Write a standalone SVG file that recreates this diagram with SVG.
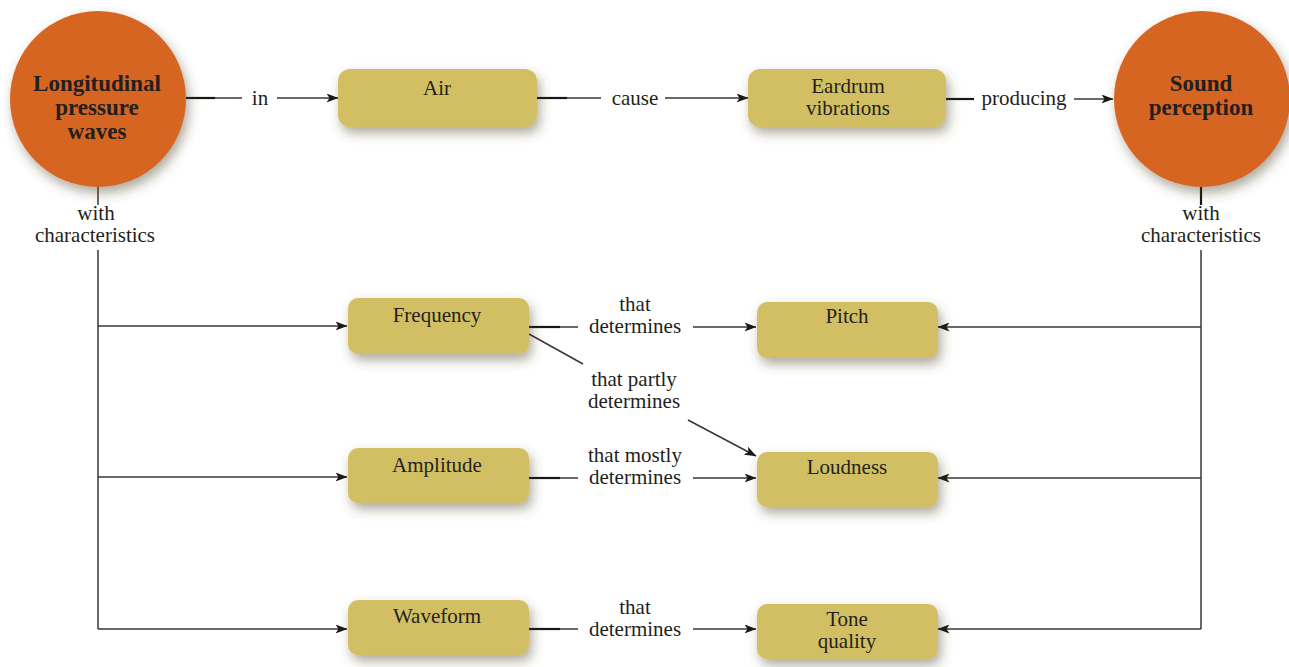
<svg xmlns="http://www.w3.org/2000/svg" width="1289" height="667" viewBox="0 0 1289 667">
  <style>
    .hub { fill: #D76524; }
    .box { fill: #D3BF63; }
    .t { font-family: "Liberation Serif", "DejaVu Serif", serif; font-size: 21px; fill: #231F20; text-anchor: middle; }
    .tb { font-family: "Liberation Serif", "DejaVu Serif", serif; font-size: 23px; font-weight: bold; fill: #231F20; text-anchor: middle; }
    .ln { fill: none; stroke: #3a3632; stroke-width: 1.5; }
    .lnd { fill: none; stroke: #1a1714; stroke-width: 2.2; }
    .arr { marker-end: url(#head); }
  </style>
  <defs>
    <filter id="shadow" x="-20%" y="-20%" width="150%" height="170%">
      <feDropShadow dx="3" dy="6" stdDeviation="6" flood-color="#4a4020" flood-opacity="0.45"/>
    </filter>
    <marker id="head" viewBox="0 0 12 9" refX="11.5" refY="4.5" markerWidth="12" markerHeight="9" markerUnits="userSpaceOnUse" orient="auto">
      <path d="M0,0 L12,4.5 L0,9 L3,4.5 z" fill="#1a1714"/>
    </marker>
  </defs>
  <rect width="1289" height="667" fill="#ffffff"/>

  <!-- connectors -->
  <g id="connectors">
    <!-- top row -->
    <line class="lnd" x1="186" y1="98" x2="215" y2="98"/>
    <line class="ln" x1="215" y1="98" x2="242" y2="98"/>
    <text class="t" x="260" y="105">in</text>
    <line class="ln arr" x1="277" y1="98" x2="338" y2="98"/>

    <line class="lnd" x1="537" y1="98" x2="567" y2="98"/>
    <line class="ln" x1="567" y1="98" x2="601" y2="98"/>
    <text class="t" x="635" y="105">cause</text>
    <line class="ln arr" x1="665" y1="98" x2="748" y2="98"/>

    <line class="lnd" x1="946" y1="99" x2="974" y2="99"/>
    <text class="t" x="1024" y="105">producing</text>
    <line class="ln arr" x1="1074" y1="99" x2="1113" y2="99"/>

    <!-- left trunk -->
    <line class="ln" x1="98" y1="187" x2="98" y2="205"/>
    <text class="t" x="96" y="220">with</text>
    <text class="t" x="95" y="242">characteristics</text>
    <path class="ln" d="M98,250 V629"/>
    <line class="ln arr" x1="98" y1="326" x2="347" y2="326"/>
    <line class="ln arr" x1="98" y1="477" x2="347" y2="477"/>
    <line class="ln arr" x1="98" y1="629" x2="347" y2="629"/>

    <!-- right trunk -->
    <line class="lnd" x1="1201" y1="187" x2="1201" y2="205"/>
    <text class="t" x="1201" y="220">with</text>
    <text class="t" x="1201" y="242">characteristics</text>
    <path class="ln" d="M1201,250 V629"/>
    <line class="ln arr" x1="1201" y1="327" x2="938" y2="327"/>
    <line class="ln arr" x1="1201" y1="478" x2="938" y2="478"/>
    <line class="ln arr" x1="1201" y1="629" x2="938" y2="629"/>

    <!-- Frequency -> Pitch -->
    <line class="lnd" x1="529" y1="327" x2="560" y2="327"/>
    <line class="ln" x1="560" y1="327" x2="578" y2="327"/>
    <text class="t" x="635" y="311">that</text>
    <text class="t" x="635" y="333">determines</text>
    <line class="ln arr" x1="693" y1="327" x2="756" y2="327"/>

    <!-- Frequency -> Loudness -->
    <line class="ln" x1="529" y1="334" x2="583" y2="364"/>
    <text class="t" x="634" y="386">that partly</text>
    <text class="t" x="634" y="408">determines</text>
    <line class="ln arr" x1="688" y1="420" x2="756" y2="456"/>

    <!-- Amplitude -> Loudness -->
    <line class="lnd" x1="529" y1="478" x2="560" y2="478"/>
    <line class="ln" x1="560" y1="478" x2="578" y2="478"/>
    <text class="t" x="635" y="462">that mostly</text>
    <text class="t" x="635" y="484">determines</text>
    <line class="ln arr" x1="693" y1="478" x2="756" y2="478"/>

    <!-- Waveform -> Tone quality -->
    <line class="lnd" x1="529" y1="629" x2="560" y2="629"/>
    <line class="ln" x1="560" y1="629" x2="578" y2="629"/>
    <text class="t" x="635" y="614">that</text>
    <text class="t" x="635" y="636">determines</text>
    <line class="ln arr" x1="693" y1="629" x2="756" y2="629"/>
  </g>

  <!-- nodes -->
  <g id="n-waves">
    <circle class="hub" cx="98" cy="99" r="88" filter="url(#shadow)"/>
    <text class="tb" x="97" y="91">Longitudinal</text>
    <text class="tb" x="97" y="115">pressure</text>
    <text class="tb" x="97" y="139">waves</text>
  </g>
  <g id="n-sound">
    <circle class="hub" cx="1202" cy="99" r="88" filter="url(#shadow)"/>
    <text class="tb" x="1201" y="91">Sound</text>
    <text class="tb" x="1201" y="115">perception</text>
  </g>
  <g id="n-air">
    <rect class="box" x="338" y="69" width="199" height="58" rx="12" filter="url(#shadow)"/>
    <text class="t" x="437" y="95">Air</text>
  </g>
  <g id="n-eardrum">
    <rect class="box" x="748" y="69" width="198" height="58" rx="12" filter="url(#shadow)"/>
    <text class="t" x="848" y="93">Eardrum</text>
    <text class="t" x="848" y="115">vibrations</text>
  </g>
  <g id="n-frequency">
    <rect class="box" x="348" y="298" width="181" height="56" rx="10" filter="url(#shadow)"/>
    <text class="t" x="437" y="322">Frequency</text>
  </g>
  <g id="n-pitch">
    <rect class="box" x="757" y="302" width="181" height="56" rx="10" filter="url(#shadow)"/>
    <text class="t" x="847" y="323">Pitch</text>
  </g>
  <g id="n-amplitude">
    <rect class="box" x="348" y="448" width="181" height="55" rx="10" filter="url(#shadow)"/>
    <text class="t" x="437" y="472">Amplitude</text>
  </g>
  <g id="n-loudness">
    <rect class="box" x="757" y="452" width="181" height="55" rx="10" filter="url(#shadow)"/>
    <text class="t" x="847" y="474">Loudness</text>
  </g>
  <g id="n-waveform">
    <rect class="box" x="348" y="600" width="181" height="55" rx="10" filter="url(#shadow)"/>
    <text class="t" x="437" y="623">Waveform</text>
  </g>
  <g id="n-tone">
    <rect class="box" x="757" y="604" width="181" height="55" rx="10" filter="url(#shadow)"/>
    <text class="t" x="847" y="626">Tone</text>
    <text class="t" x="847" y="648">quality</text>
  </g>
</svg>
